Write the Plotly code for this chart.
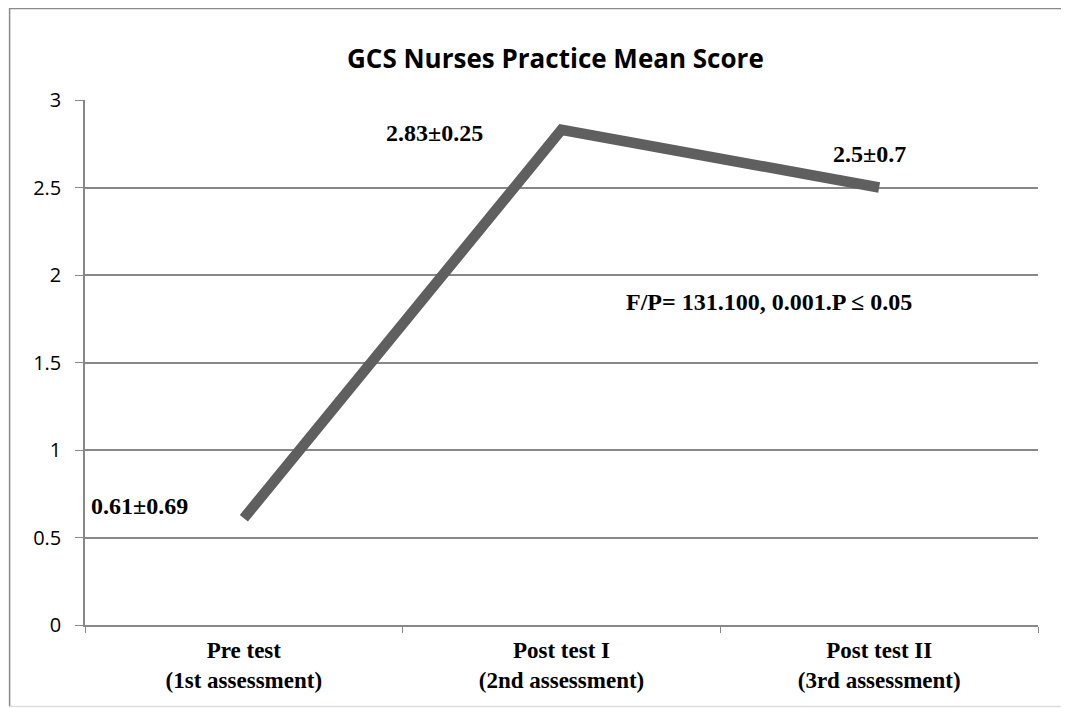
import plotly.graph_objects as go

categories = ["Pre test<br>(1st assessment)", "Post test I<br>(2nd assessment)", "Post test II<br>(3rd assessment)"]
means = [0.61, 2.83, 2.5]
labels = ["0.61±0.69", "2.83±0.25", "2.5±0.7"]
label_x = [-0.33, 0.60, 1.97]
label_y = [0.68, 2.81, 2.69]
stat_text = "F/P= 131.100, 0.001.P ≤ 0.05"

# page body has an 8px margin, so figure coordinates are shifted by -8
OFF = 8
W, H = 1069 - OFF, 708 - OFF
L, T = 85 - OFF, 100 - OFF
R = W - (1038 - OFF)
B = H - (625 - OFF)
pw, ph = W - L - R, H - T - B

def px(x):
    return (x - OFF - L) / pw

def py(y):
    return (H - B - (y - OFF)) / ph

fig = go.Figure()
fig.add_trace(go.Scatter(x=categories, y=means, mode="lines",
                         line=dict(color="#5f5f5f", width=10.5), hoverinfo="skip"))

serif = "Liberation Serif"
for x, y, t in zip(label_x, label_y, labels):
    fig.add_annotation(x=x, y=y, xref="x", yref="y", text="<b>%s</b>" % t, showarrow=False,
                       font=dict(family=serif, size=24, color="black"))
fig.add_annotation(x=1.654, y=1.846, xref="x", yref="y", text="<b>%s</b>" % stat_text, showarrow=False,
                   font=dict(family=serif, size=24, color="black"))

fig.add_annotation(x=px(555), y=py(58), xref="paper", yref="paper", xanchor="center", yanchor="middle",
                   text="<b>GCS Nurses Practice Mean Score</b>",
                   showarrow=False, font=dict(family="Open Sans", size=26, color="black"))

# outer border
bc = "#8a8a8a"
for (x0, y0, x1, y1, c, w) in [(9, 8.6, 1066, 8.6, bc, 1.5), (9, 706.5, 1066, 706.5, "#dddddd", 1.5),
                               (9.6, 8, 9.6, 706, bc, 1.5),
                               (1066.5, 8, 1066.5, 268, "#333333", 2), (1066.5, 340, 1066.5, 708, "#333333", 2)]:
    fig.add_shape(type="line", xref="paper", yref="paper", x0=px(x0), y0=py(y0), x1=px(x1), y1=py(y1),
                  line=dict(color=c, width=w))

fig.update_layout(
    width=W, height=H, margin=dict(l=L, r=R, t=T, b=B),
    paper_bgcolor="white", plot_bgcolor="white", showlegend=False,
    xaxis=dict(type="category", range=[-0.5, 2.5], tickson="boundaries", ticks="outside", ticklen=6,
               tickcolor="#888888", showline=True, linecolor="#888888", linewidth=1.5, showgrid=False,
               ticklabelstandoff=4,
               tickfont=dict(family=serif, size=23, color="black"), fixedrange=True),
    yaxis=dict(range=[0, 3], dtick=0.5, ticks="outside", ticklen=8, tickcolor="#888888",
               showline=True, linecolor="#888888", linewidth=1.5, gridcolor="#888888", gridwidth=1.5,
               zeroline=False, ticklabelstandoff=10,
               tickfont=dict(family="Open Sans", size=20, color="black"), fixedrange=True),
)
fig.update_xaxes(tickvals=categories, ticktext=["<b>%s</b>" % c for c in categories])
fig.write_html("out.html")
